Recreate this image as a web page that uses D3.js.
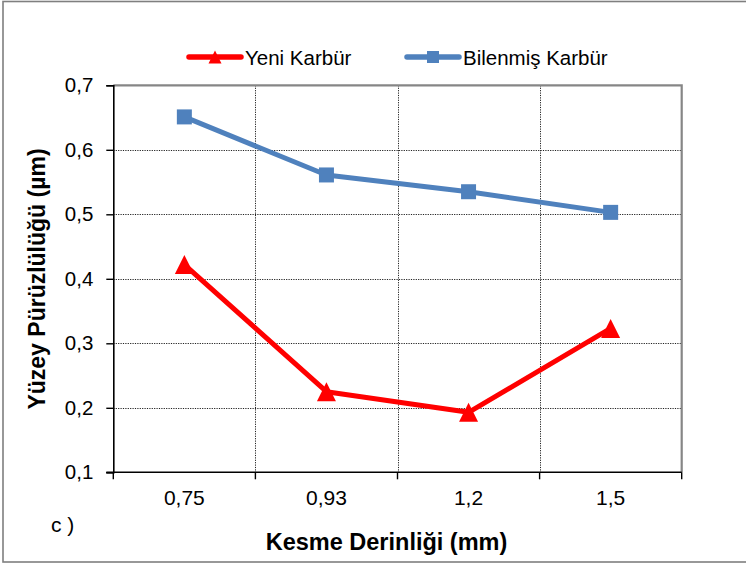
<!DOCTYPE html>
<html>
<head>
<meta charset="utf-8">
<script src="https://cdn.jsdelivr.net/npm/d3@7"></script>
<style>
  html, body { margin: 0; padding: 0; background: #fff; }
  svg { display: block; font-family: "Liberation Sans", Arial, sans-serif; }
</style>
</head>
<body>
<svg id="chart" width="746" height="565"></svg>
<script>
// Cutting depth categories (mm) and surface roughness values (µm)
const categories = ["0,75", "0,93", "1,2", "1,5"];
const yeniKarbur = [0.422, 0.225, 0.193, 0.323];
const bilenmisKarbur = [0.651, 0.561, 0.535, 0.503];
const yTicks = [0.1, 0.2, 0.3, 0.4, 0.5, 0.6, 0.7];
const seriesNames = ["Yeni Karbür", "Bilenmiş Karbür"];

const svg = d3.select("#chart");
const W = 746, H = 565;
const plot = { left: 113.3, right: 681.7, top: 85.3, bottom: 472.3 };
const FONT = "Liberation Sans, Arial, sans-serif";

// Outer frame
svg.append("rect")
  .attr("x", 3).attr("y", 1.5).attr("width", W + 5).attr("height", 560.5)
  .attr("fill", "#fff").attr("stroke", "#7f7f7f").attr("stroke-width", 1.6);

const x = d3.scaleBand().domain(categories).range([plot.left, plot.right]).padding(0);
const y = d3.scaleLinear().domain([0.1, 0.7]).range([plot.bottom, plot.top]);
const fmt = v => d3.format(".1f")(v).replace(".", ",");

// Horizontal gridlines
svg.append("g").selectAll("line").data(yTicks.slice(1, -1)).join("line")
  .attr("x1", plot.left).attr("x2", plot.right)
  .attr("y1", d => Math.round(y(d)) + 0.5).attr("y2", d => Math.round(y(d)) + 0.5)
  .attr("stroke", "#222").attr("stroke-width", 1).attr("stroke-dasharray", "1.2,1.2");

// Vertical gridlines on the category boundaries
const bounds = categories.slice(1).map(c => x(c));
svg.append("g").selectAll("line").data(bounds).join("line")
  .attr("x1", d => Math.round(d) + 0.5).attr("x2", d => Math.round(d) + 0.5)
  .attr("y1", plot.top).attr("y2", plot.bottom)
  .attr("stroke", "#222").attr("stroke-width", 1).attr("stroke-dasharray", "1.2,1.2");

// Top and right plot border
svg.append("path")
  .attr("d", `M${plot.left},${plot.top}H${plot.right}V${plot.bottom}`)
  .attr("fill", "none").attr("stroke", "#868686").attr("stroke-width", 2.2);

// Y axis
const yAxis = svg.append("g").attr("transform", `translate(${plot.left},0)`)
  .call(d3.axisLeft(y).tickValues(yTicks).tickFormat(fmt).tickSize(7).tickPadding(13));
yAxis.select(".domain").attr("stroke", "#000").attr("stroke-width", 1.6);
yAxis.selectAll(".tick line").attr("stroke", "#000").attr("stroke-width", 1.4);
yAxis.selectAll(".tick text").attr("font-size", 20.5).attr("fill", "#000")
  .attr("font-family", FONT);

// X axis: ticks on the category boundaries, labels centred in each band
const xAxisG = svg.append("g").attr("transform", `translate(0,${plot.bottom})`);
xAxisG.append("line").attr("x1", plot.left - 7).attr("x2", plot.right)
  .attr("stroke", "#000").attr("stroke-width", 1.6);
const edges = categories.map(c => x(c)).concat([x(categories[categories.length - 1]) + x.bandwidth()]);
xAxisG.selectAll("line.tk").data(edges).join("line").attr("class", "tk")
  .attr("x1", d => d).attr("x2", d => d).attr("y1", 0).attr("y2", 7)
  .attr("stroke", "#000").attr("stroke-width", 1.4);
xAxisG.selectAll("text").data(categories).join("text")
  .attr("x", d => x(d) + x.bandwidth() / 2).attr("y", 33)
  .attr("text-anchor", "middle").attr("font-size", 21).attr("fill", "#000")
  .text(d => d);

// Axis titles
svg.append("text")
  .attr("x", 386.5).attr("y", 550).attr("text-anchor", "middle")
  .attr("font-size", 23.5).attr("font-weight", "bold").text("Kesme Derinliği (mm)");
svg.append("text")
  .attr("transform", "translate(45,279) rotate(-90)").attr("text-anchor", "middle")
  .attr("font-size", 23).attr("font-weight", "bold").text("Yüzey Pürüzlülüğü (µm)");
svg.append("text").attr("x", 51).attr("y", 532).attr("font-size", 21).text("c )");

// Series
const cx = c => x(c) + x.bandwidth() / 2;
const line = d3.line().x((d, i) => cx(categories[i])).y(d => y(d));
const red = "#ff0000", blue = "#4f81bd";
const triPath = (w, h) => `M0,${-h / 2}L${w / 2},${h / 2}L${-w / 2},${h / 2}Z`;

svg.append("path").datum(bilenmisKarbur).attr("d", line)
  .attr("fill", "none").attr("stroke", blue).attr("stroke-width", 5).attr("stroke-linejoin", "round");
svg.append("g").selectAll("rect").data(bilenmisKarbur).join("rect")
  .attr("x", (d, i) => cx(categories[i]) - 7.5).attr("y", d => y(d) - 7.5)
  .attr("width", 15).attr("height", 15).attr("fill", blue);

svg.append("path").datum(yeniKarbur).attr("d", line)
  .attr("fill", "none").attr("stroke", red).attr("stroke-width", 5).attr("stroke-linejoin", "round");
svg.append("g").selectAll("path").data(yeniKarbur).join("path")
  .attr("d", triPath(19, 19))
  .attr("transform", (d, i) => `translate(${cx(categories[i])},${y(d)})`)
  .attr("fill", red);

// Legend
const legend = svg.append("g");
const legendItems = [
  { name: seriesNames[0], color: red, x0: 187, shape: "tri" },
  { name: seriesNames[1], color: blue, x0: 405, shape: "sq" }
];
legendItems.forEach(it => {
  const ly = 57;
  legend.append("line").attr("x1", it.x0 + 2).attr("x2", it.x0 + 54)
    .attr("y1", ly).attr("y2", ly).attr("stroke", it.color).attr("stroke-width", 5.5)
    .attr("stroke-linecap", "round");
  if (it.shape === "tri") {
    legend.append("path").attr("d", triPath(13, 13))
      .attr("transform", `translate(${it.x0 + 28},${ly})`).attr("fill", it.color);
  } else {
    legend.append("rect").attr("x", it.x0 + 28 - 6).attr("y", ly - 6)
      .attr("width", 12).attr("height", 12).attr("fill", it.color);
  }
  legend.append("text").attr("x", it.x0 + 58).attr("y", ly + 7.5)
    .attr("font-size", 20.5).attr("fill", "#000").text(it.name);
});
</script>
</body>
</html>
